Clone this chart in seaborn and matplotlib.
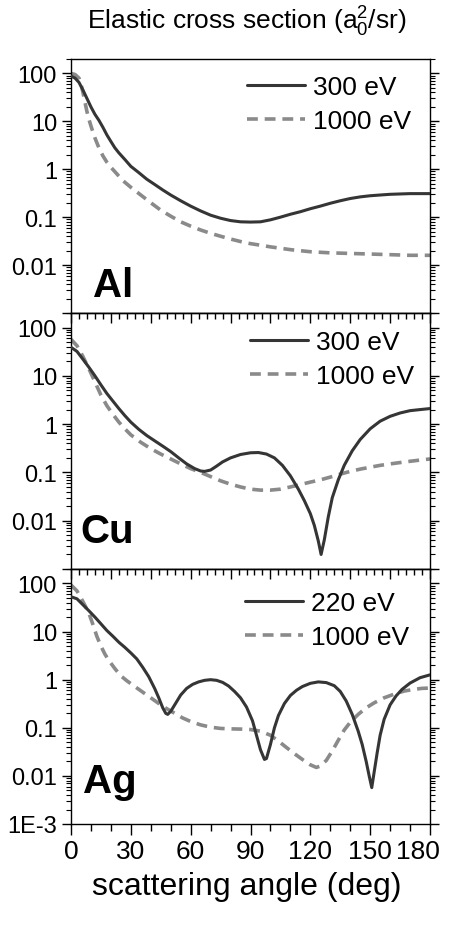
import numpy as np
import pandas as pd
import matplotlib
matplotlib.use("Agg")
import matplotlib.pyplot as plt
import matplotlib.ticker as mticker
from matplotlib.transforms import ScaledTranslation
import seaborn as sns

# Elastic differential cross sections (a0^2/sr) vs scattering angle (deg)
al_angle_lo = [0, 2, 4, 6, 8, 10, 12, 14, 16, 18, 20, 22, 24, 27, 30, 34, 38, 42, 46, 50, 55, 60, 65, 70, 75, 80,
               85, 90, 95, 100, 105, 110, 115, 120, 125, 130, 135, 140, 145, 150, 155, 160, 165, 170, 175, 180]
al_300 = [88, 80, 65, 45, 30, 20, 14, 10.5, 7.5, 5.2, 3.8, 2.8, 2.2, 1.6, 1.15, 0.85, 0.62, 0.48, 0.37, 0.29, 0.22,
          0.17, 0.135, 0.11, 0.095, 0.085, 0.08, 0.079, 0.08, 0.088, 0.1, 0.115, 0.13, 0.15, 0.17, 0.195, 0.22, 0.245,
          0.265, 0.28, 0.29, 0.30, 0.305, 0.31, 0.31, 0.31]
al_angle_hi = [0, 2, 4, 5, 6, 7, 8, 9, 10, 12, 14, 16, 18, 20, 23, 26, 30, 35, 40, 45, 50, 55, 60, 65, 70, 75, 80,
               85, 90, 95, 100, 110, 120, 130, 140, 150, 160, 170, 180]
al_1000 = [100, 95, 80, 60, 40, 25, 16, 11, 8, 4.5, 2.8, 1.9, 1.4, 1.1, 0.8, 0.58, 0.42, 0.29, 0.2, 0.14, 0.105,
           0.08, 0.065, 0.054, 0.046, 0.04, 0.035, 0.031, 0.028, 0.026, 0.024, 0.021, 0.019, 0.018, 0.0175, 0.017,
           0.0165, 0.016, 0.016]

cu_angle_lo = [0, 3, 6, 9, 12, 15, 18, 21, 24, 27, 30, 34, 38, 42, 46, 50, 54, 58, 62, 65, 67, 70, 73, 76, 80, 85,
               90, 94, 98, 102, 106, 110, 114, 117, 120, 122, 124, 125.4, 127, 129, 131, 134, 137, 141, 145, 150, 155,
               160, 165, 170, 175, 180]
cu_300 = [39, 32, 22, 15, 10, 6.5, 4.3, 3.0, 2.1, 1.5, 1.1, 0.78, 0.58, 0.45, 0.35, 0.27, 0.2, 0.15, 0.12, 0.107,
          0.105, 0.112, 0.135, 0.165, 0.2, 0.235, 0.255, 0.258, 0.24, 0.2, 0.14, 0.085, 0.045, 0.026, 0.014, 0.008,
          0.0038, 0.002, 0.004, 0.012, 0.03, 0.07, 0.14, 0.28, 0.48, 0.8, 1.15, 1.45, 1.7, 1.9, 2.0, 2.1]
cu_angle_hi = [0, 3, 6, 9, 12, 15, 18, 21, 24, 27, 30, 35, 40, 45, 50, 55, 60, 65, 70, 75, 80, 85, 90, 95, 100,
               105, 110, 115, 120, 125, 130, 135, 140, 145, 150, 155, 160, 165, 170, 175, 180]
cu_1000 = [57, 42, 25, 14, 7.5, 4.0, 2.4, 1.6, 1.1, 0.8, 0.6, 0.42, 0.31, 0.24, 0.19, 0.15, 0.12, 0.1, 0.082,
           0.067, 0.057, 0.05, 0.045, 0.043, 0.043, 0.045, 0.05, 0.056, 0.063, 0.07, 0.08, 0.092, 0.105, 0.117,
           0.128, 0.14, 0.15, 0.16, 0.17, 0.18, 0.19]

ag_angle_lo = [0, 3, 6, 9, 12, 15, 18, 21, 24, 27, 30, 33, 36, 39, 42, 44, 46, 47.5, 48.5, 50, 52, 55, 58, 61, 64,
               67, 70, 73, 76, 79, 82, 85, 88, 91, 93, 95, 97, 98, 100, 102, 104, 107, 110, 113, 116, 120, 124, 128,
               132, 135, 138, 141, 144, 146, 148, 149.5, 150.8, 152, 153.5, 155, 157, 160, 163, 166, 170, 175, 180]
ag_220 = [53, 48, 36, 27, 20, 14.5, 10.5, 8, 6, 4.7, 3.6, 2.7, 1.8, 1.15, 0.65, 0.42, 0.26, 0.2, 0.19, 0.22, 0.3,
          0.48, 0.66, 0.8, 0.9, 0.97, 1.0, 0.97, 0.88, 0.74, 0.57, 0.42, 0.27, 0.14, 0.07, 0.035, 0.022, 0.023, 0.045,
          0.1, 0.18, 0.32, 0.47, 0.6, 0.72, 0.84, 0.9, 0.87, 0.75, 0.57, 0.36, 0.19, 0.085, 0.045, 0.02, 0.01, 0.0057,
          0.012, 0.03, 0.07, 0.15, 0.3, 0.46, 0.63, 0.85, 1.1, 1.26]
ag_angle_hi = [0, 3, 5, 7, 9, 11, 13, 15, 17, 19, 22, 25, 28, 32, 36, 40, 44, 48, 52, 56, 60, 65, 70, 75, 80, 85,
               90, 95, 100, 104, 108, 112, 116, 120, 123, 125, 128, 131, 134, 137, 140, 144, 148, 152, 157, 162, 167,
               172, 176, 180]
ag_1000 = [93, 70, 50, 35, 24, 14, 7.9, 5, 3.4, 2.5, 1.7, 1.2, 0.95, 0.72, 0.55, 0.42, 0.32, 0.25, 0.2, 0.16, 0.135,
           0.115, 0.103, 0.097, 0.095, 0.094, 0.092, 0.085, 0.07, 0.053, 0.039, 0.029, 0.022, 0.017, 0.015, 0.016,
           0.021, 0.033, 0.055, 0.09, 0.13, 0.19, 0.26, 0.33, 0.42, 0.5, 0.58, 0.63, 0.66, 0.67]

elements = ["Al", "Cu", "Ag"]
low_energy_labels = ["300 eV", "300 eV", "220 eV"]
high_energy_label = "1000 eV"
y_tick_values = [1e-3, 1e-2, 1e-1, 1, 10, 100]
y_tick_text = ["1E-3", "0.01", "0.1", "1", "10", "100"]
x_tick_values = [0, 30, 60, 90, 120, 150, 180]

panels = [
    (al_angle_lo, al_300, al_angle_hi, al_1000),
    (cu_angle_lo, cu_300, cu_angle_hi, cu_1000),
    (ag_angle_lo, ag_220, ag_angle_hi, ag_1000),
]

sns.set_theme(style="ticks")
plt.rcParams["font.family"] = ["Liberation Sans", "DejaVu Sans"]
plt.rcParams["mathtext.fontset"] = "custom"
plt.rcParams["mathtext.rm"] = "Liberation Sans"
plt.rcParams["text.color"] = "black"
plt.rcParams["xtick.color"] = "black"
plt.rcParams["ytick.color"] = "black"
plt.rcParams["axes.labelcolor"] = "black"

W, H = 453, 928
fig = plt.figure(figsize=(W / 100, H / 100), dpi=100)

left, right = 71, 430
bounds = [(60, 314), (314, 570), (570, 825)]
legend_anchor = [(0.490, 0.938), (0.499, 0.932), (0.485, 0.914)]
element_pos = [(0.061, 0.067), (0.025, 0.105), (0.033, 0.125)]

solid_color = "#353535"
dash_color = "#8a8a8a"

for i, ((xa, ya, xb, yb), (top, bot)) in enumerate(zip(panels, bounds)):
    ax = fig.add_axes([left / W, 1 - bot / H, (right - left) / W, (bot - top) / H])
    ax.set_facecolor("white")
    df_lo = pd.DataFrame({"angle": xa, "cs": ya})
    df_hi = pd.DataFrame({"angle": xb, "cs": yb})
    sns.lineplot(data=df_lo, x="angle", y="cs", ax=ax, color=solid_color, lw=2.2,
                 label=low_energy_labels[i], zorder=3)
    sns.lineplot(data=df_hi, x="angle", y="cs", ax=ax, color=dash_color, lw=2.6,
                 label=high_energy_label, zorder=2)
    ax.lines[1].set_dashes((3.0, 1.9))
    ax.set_yscale("log")
    ax.set_xlim(0, 180)
    ax.set_ylim(1e-3, 200)
    ax.set_xlabel("")
    ax.set_ylabel("")

    for s in ax.spines.values():
        s.set_color("black")
        s.set_linewidth(1.0)

    ax.yaxis.set_major_locator(mticker.FixedLocator(y_tick_values))
    labels = list(y_tick_text)
    if i < 2:
        labels[0] = ""
    ax.yaxis.set_major_formatter(mticker.FixedFormatter(labels))
    ax.yaxis.set_minor_locator(mticker.LogLocator(base=10, subs=np.arange(2, 10), numticks=20))
    ax.yaxis.set_minor_formatter(mticker.NullFormatter())
    ax.tick_params(axis="y", which="both", direction="out", left=True, right=True,
                   labelleft=True, labelright=False, colors="black", labelsize=17)
    ax.tick_params(axis="y", which="major", length=6.5, width=1.0)
    ax.tick_params(axis="y", which="minor", length=3.5, width=0.8)

    if i < 2:
        ax.tick_params(axis="x", which="both", bottom=False, top=False, labelbottom=False)
    else:
        ax.xaxis.set_major_locator(mticker.FixedLocator(x_tick_values))
        ax.xaxis.set_minor_locator(mticker.MultipleLocator(10))
        ax.tick_params(axis="x", which="both", direction="out", bottom=True, top=False,
                       labelbottom=True, colors="black", labelsize=19, pad=3)
        ax.tick_params(axis="x", which="major", length=8, width=1.0)
        ax.tick_params(axis="x", which="minor", length=5, width=1.0)
        last = ax.get_xticklabels()[-1]
        last.set_transform(last.get_transform() + ScaledTranslation(-0.12, 0, fig.dpi_scale_trans))
    if i > 0:
        sec = ax.secondary_xaxis("top")
        sec.xaxis.set_major_locator(mticker.MultipleLocator(20))
        sec.xaxis.set_minor_locator(mticker.MultipleLocator(4))
        sec.tick_params(axis="x", which="both", direction="in", labeltop=False, colors="black")
        sec.tick_params(axis="x", which="major", length=7, width=1.0)
        sec.tick_params(axis="x", which="minor", length=4, width=1.0)
        sec.spines["top"].set_linewidth(1.0)

    leg = ax.legend(loc="upper left", bbox_to_anchor=legend_anchor[i], frameon=False,
                    fontsize=19, handlelength=2.2, handletextpad=0.3, labelspacing=0.38,
                    borderpad=0, borderaxespad=0)
    for t in leg.get_texts():
        t.set_color("black")
    ax.text(element_pos[i][0], element_pos[i][1], elements[i], transform=ax.transAxes,
            fontsize=29, fontweight="bold", color="black", va="baseline", ha="left")

fig.text(247 / W, 1 - 22 / H, "Elastic cross section (a$\\mathregular{_0^2}$/sr)",
         ha="center", va="center", fontsize=19, color="black")
fig.text(247 / W, 1 - 887 / H, "scattering angle (deg)", ha="center", va="center",
         fontsize=23, color="black")

fig.savefig("out.png", dpi=100, facecolor="white")
